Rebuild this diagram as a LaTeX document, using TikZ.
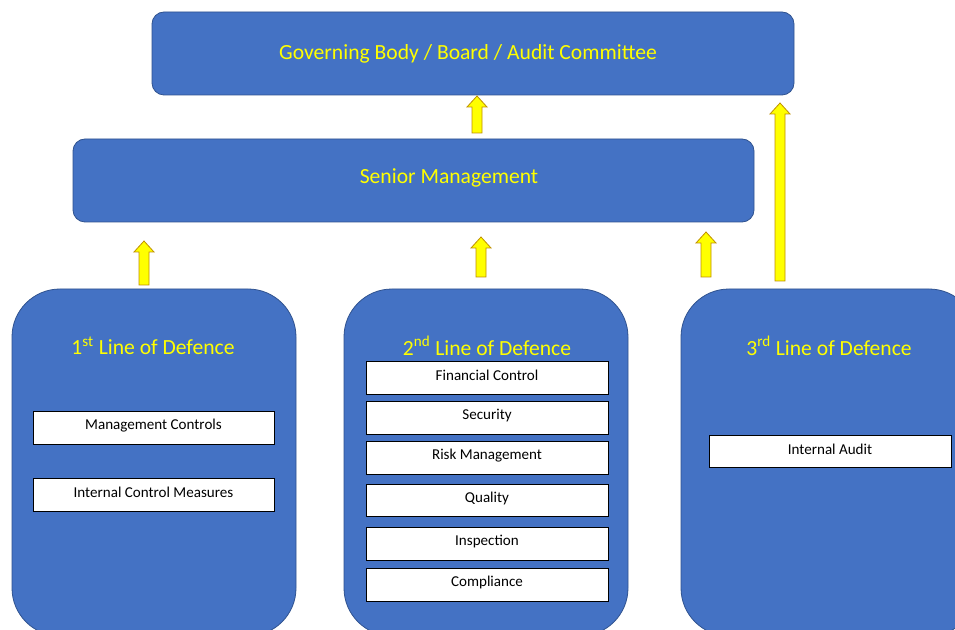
\documentclass[tikz,border=0pt]{standalone}
\usepackage{fontspec}
\setmainfont{Carlito}
\usetikzlibrary{fit}
\definecolor{boxblue}{HTML}{4472C4}
\definecolor{boxedge}{HTML}{2F528F}
\definecolor{goldedge}{HTML}{BF9000}
\definecolor{txtyellow}{HTML}{FFFF00}
\newcommand\blockarrow[3]{%
  \draw[yarrow] ({#1-5},#3) -- ({#1-5},{#2+11}) -- ({#1-10},{#2+11}) -- (#1,#2)
    -- ({#1+10},{#2+11}) -- ({#1+5},{#2+11}) -- ({#1+5},#3) -- cycle;}
\begin{document}
\begin{tikzpicture}[x=0.75pt,y=-0.75pt,
  bluebox/.style={draw=boxedge, line width=0.6pt, fill=boxblue, inner sep=0pt, outer sep=0pt},
  topbox/.style={bluebox, rounded corners=9pt},
  bigbox/.style={bluebox, rounded corners=36pt},
  bigtxt/.style={font=\fontsize{16.2}{18}\selectfont, text=txtyellow, inner sep=0pt},
  wbox/.style={draw=black, line width=0.6pt, fill=white, inner sep=0pt, outer sep=0pt},
  smalltxt/.style={font=\fontsize{11.3}{13}\selectfont, inner sep=0pt},
  yarrow/.style={draw=goldedge, line width=0.6pt, fill=txtyellow, line join=miter}]
\useasboundingbox (0,0) rectangle (955,630);
\clip (0,0) rectangle (955,630);
\fill[white] (0,0) rectangle (955,630);
% top boxes
\node[topbox, fit={(152,12) (794,95)}] (gov) {};
\node[bigtxt] (govt) at (468,54) {Governing Body / Board / Audit Committee};
\node[topbox, fit={(73,139) (754,222)}] (sm) {};
\node[bigtxt] (smt) at (449,178) {Senior Management};
% lines of defence
\node[bigbox, fit={(12,289) (296,636)}] (l1) {};
\node[bigbox, fit={(344,289) (628,636)}] (l2) {};
\node[bigbox, fit={(681,289) (977,636)}] (l3) {};
\node[bigtxt] (h1) at (153,346) {1\textsuperscript{st} Line of Defence};
\node[bigtxt] (h2) at (487,346) {2\textsuperscript{nd} Line of Defence};
\node[bigtxt] (h3) at (829,346) {3\textsuperscript{rd} Line of Defence};
% items
\foreach \nm/\xa/\ya/\xb/\yb/\tx in {
  mc/33/411/274/444/Management Controls,
  icm/33/478/274/511/Internal Control Measures,
  fc/366/361/608/394/Financial Control,
  sec/366/401/608/434/Security,
  rm/366/441/608/474/Risk Management,
  qu/366/484/608/516/Quality,
  ins/366/527/608/560/Inspection,
  com/366/568/608/601/Compliance,
  ia/709/435/951/467/Internal Audit}{
  \node[wbox, fit={(\xa,\ya) (\xb,\yb)}] (\nm) {};
  \node[smalltxt, yshift=1.5pt] (\nm t) at (\nm.center) {\tx};
}
% arrows
\blockarrow{477}{96}{133}
\blockarrow{144}{241}{285}
\blockarrow{481}{237}{277}
\blockarrow{706}{232}{277}
\blockarrow{780}{103}{281}
\end{tikzpicture}
\end{document}
